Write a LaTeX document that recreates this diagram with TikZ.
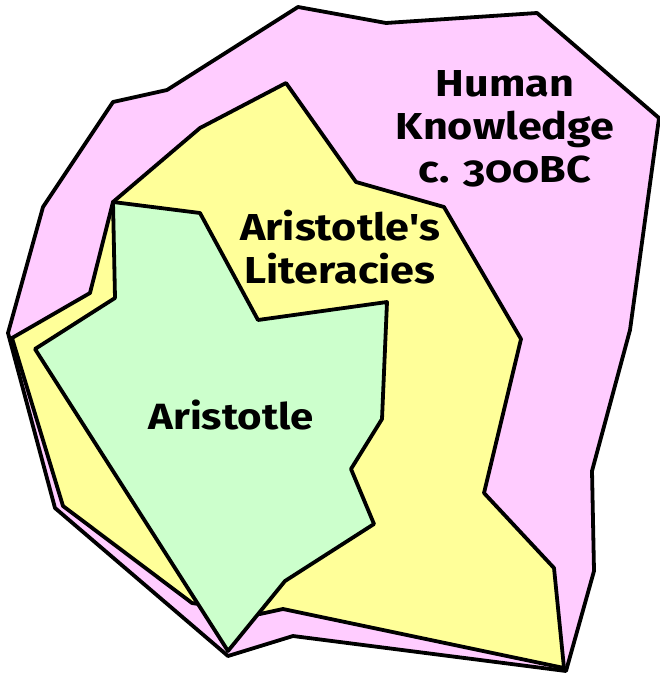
\documentclass[tikz,border=0pt]{standalone}
\usepackage{fontspec}
\setmainfont{Fira Sans}[Numbers=OldStyle, Ligatures=TeXOff, FakeStretch=1.15]
\definecolor{pinkfill}{HTML}{FFCCFF}
\definecolor{yellowfill}{HTML}{FFFF99}
\definecolor{greenfill}{HTML}{CCFFCC}
\begin{document}
\begin{tikzpicture}[x=1pt,y=-1pt,
  region/.style={draw=black, line width=3.8pt, line join=round},
  lbl/.style={font=\fontsize{37.5}{40}\selectfont\bfseries, anchor=base, inner sep=0pt}]
\useasboundingbox (0,0) rectangle (659,676);
\fill[white] (0,0) rectangle (659,676);
\draw[region, fill=pinkfill] (298,7) -- (386,23) -- (537,13) -- (659,118) -- (630,330) -- (592,471) -- (594,571) -- (566,671) -- (293,636) -- (228,656) -- (55,508) -- (8,333) -- (43,207) -- (113,102) -- (167,90) -- cycle;
\draw[region, fill=yellowfill] (286,83) -- (356,182) -- (444,207) -- (521,339) -- (484,493) -- (554,568) -- (564,668) -- (283,609) -- (260,614) -- (192,603) -- (63,506) -- (12,338) -- (90,293) -- (113,202) -- (200,128) -- cycle;
\draw[region, fill=greenfill] (113,202) -- (200,213) -- (258,320) -- (387,302) -- (382,419) -- (351,469) -- (374,524) -- (285,581) -- (228,651) -- (35,349) -- (115,298) -- cycle;
\node[lbl] (hk1) at (505,97) {Human};
\node[lbl] (hk2) at (505,140) {Knowledge};
\node[lbl] (hk3) at (505,183) {c. 300BC};
\node[lbl] (al1) at (340,240) {Aristotle's};
\node[lbl] (al2) at (340,283) {Literacies};
\node[lbl, font=\fontsize{36.5}{40}\selectfont\bfseries] (ar) at (231,429) {Aristotle};
\end{tikzpicture}
\end{document}
